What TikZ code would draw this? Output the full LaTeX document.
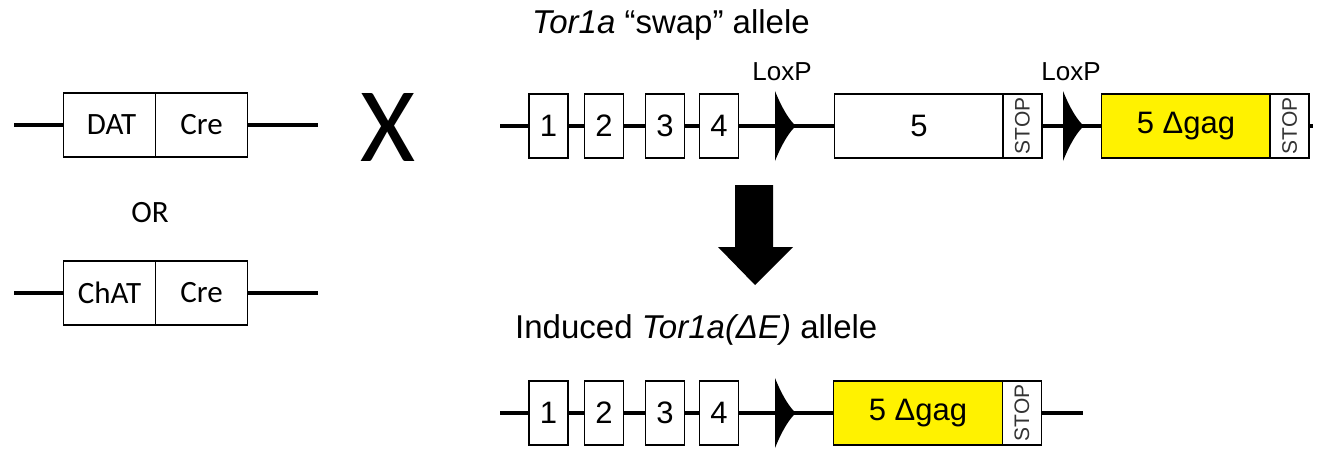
\documentclass[tikz,border=0pt]{standalone}
\usepackage{fontspec}
\setmainfont{Liberation Sans}
\newfontfamily\calib{Carlito}
\begin{document}
\begin{tikzpicture}[x=1pt,y=-1pt,
  box/.style={draw,line width=1.1pt,fill=white,inner sep=0pt,outer sep=0pt},
  exon/.style={box,minimum width=39pt,minimum height=64pt,font=\fontsize{31}{31}\selectfont},
  bigexon/.style={box,minimum width=169pt,minimum height=64pt,font=\fontsize{31}{31}\selectfont},
  stopbox/.style={box,minimum width=39pt,minimum height=64pt,font=\fontsize{21}{21}\selectfont\color{black!80}},
  crebox/.style={box,minimum width=92pt,minimum height=64pt,font=\calib\fontsize{31}{31}\selectfont},
  dna/.style={line width=4pt},
  lox/.style={fill=black},
  lbl/.style={inner sep=0pt,font=\fontsize{26}{26}\selectfont},
  title/.style={inner sep=0pt,font=\fontsize{33}{33}\selectfont}]
\fill[white] (0,0) rectangle (1329,450);
\useasboundingbox (0,0) rectangle (1329,450);
% ---------- left: Cre drivers ----------
\coordinate (l1a) at (14,125);
\coordinate (l1b) at (318,125);
\node[crebox] (dat) at (109.5,125) {\hspace*{4pt}DAT};
\node[crebox] (cre1) at (201.5,125) {Cre};
\draw[dna] (l1a) -- (dat.west);
\draw[dna] (cre1.east) -- (l1b);
\node[inner sep=0pt,font=\calib\fontsize{31}{31}\selectfont] (or) at (150,213) {OR};
\coordinate (l2a) at (14,293);
\coordinate (l2b) at (318,293);
\node[crebox] (chat) at (109.5,293) {ChAT};
\node[crebox] (cre2) at (201.5,293) {Cre};
\draw[dna] (l2a) -- (chat.west);
\draw[dna] (cre2.east) -- (l2b);
\node[inner sep=0pt,font=\calib\fontsize{106}{106}\selectfont] (cross) at (388,127) {X};
% ---------- top: swap allele ----------
\node[title,anchor=base west] (t1) at (532,33) {\textit{Tor1a} “swap” allele};
\coordinate (s1) at (500,126);
\coordinate (s2) at (1313,126);
\node[exon] (a1) at (548.5,126) {1};
\node[exon] (a2) at (604,126) {2};
\node[exon] (a3) at (665,126) {3};
\node[exon] (a4) at (719,126) {4};
\node[bigexon] (a5) at (919,126) {5};
\node[stopbox] (as1) at (1022.5,126) {\rotatebox{90}{STOP}};
\node[bigexon,fill=yellow] (a6) at (1186,126) {5 Δgag};
\node[stopbox] (as2) at (1289.5,126) {\rotatebox{90}{STOP}};
\draw[dna] (s1) -- (a1.west) (a1.east) -- (a2.west) (a2.east) -- (a3.west) (a3.east) -- (a4.west)
  (a4.east) -- (a5.west) (as1.east) -- (a6.west) (as2.east) -- (s2);
\coordinate (lx1) at (775,126);
\coordinate (lx2) at (1063,126);
\fill[lox] (lx1) ++(0,-35) .. controls +(8,20) and +(-5,-4) .. ++(21,35)
  .. controls +(-5,4) and +(8,-20) .. ++(-21,35) -- cycle;
\fill[lox] (lx2) ++(0,-35) .. controls +(8,20) and +(-5,-4) .. ++(21,35)
  .. controls +(-5,4) and +(8,-20) .. ++(-21,35) -- cycle;
\node[lbl,anchor=base] (lp1) at (782,80) {LoxP};
\node[lbl,anchor=base] (lp2) at (1071,80) {LoxP};
% ---------- arrow ----------
\fill (735,185) -- (773,185) -- (773,247) -- (793,247) -- (755,285) -- (718,247) -- (735,247) -- cycle;
% ---------- bottom: induced allele ----------
\node[title,anchor=base west] (t2) at (515,338) {Induced \textit{Tor1a(ΔE)} allele};
\coordinate (b0) at (500,413);
\coordinate (bend) at (1083,413);
\node[exon] (b1) at (548.5,413) {1};
\node[exon] (b2) at (604,413) {2};
\node[exon] (b3) at (665,413) {3};
\node[exon] (b4) at (719,413) {4};
\node[bigexon,fill=yellow] (b5) at (918,413) {5 Δgag};
\node[stopbox] (bs) at (1022,413) {\rotatebox{90}{STOP}};
\draw[dna] (b0) -- (b1.west) (b1.east) -- (b2.west) (b2.east) -- (b3.west) (b3.east) -- (b4.west)
  (b4.east) -- (b5.west) (bs.east) -- (bend);
\coordinate (lx3) at (775,413);
\fill[lox] (lx3) ++(0,-35) .. controls +(8,20) and +(-5,-4) .. ++(21,35)
  .. controls +(-5,4) and +(8,-20) .. ++(-21,35) -- cycle;
\end{tikzpicture}
\end{document}
